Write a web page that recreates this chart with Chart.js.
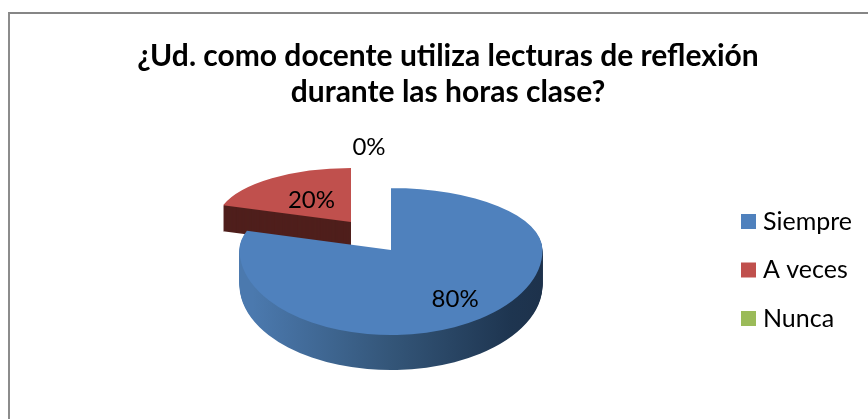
<!DOCTYPE html>
<html>
<head>
<meta charset="utf-8">
<script src="https://cdn.jsdelivr.net/npm/chart.js@4"></script>
<style>
  html, body { margin: 0; padding: 0; background: #fff; overflow: hidden; }
  #frame { position: absolute; left: 8px; top: 12px; width: 900px; height: 405px; border-left: 2px solid #8c8c8c; border-top: 2px solid #868686; }
  canvas { position: absolute; left: 0; top: 0; }
</style>
</head>
<body>
<canvas id="pie" width="868" height="502"></canvas>
<div id="frame"></div>
<script>
const titleLines = ['¿Ud. como docente utiliza lecturas de reflexión', 'durante las horas clase?'];
const categories = ['Siempre', 'A veces', 'Nunca'];
const percents = [80, 20, 0];
const colors = ['#4F81BD', '#C0504D', '#9BBB59'];

const RADIUS = 151.5;
const FONT = 'Lato, Carlito, sans-serif';

// flat circle -> tilted disc. Top and bottom halves squashed differently, that fakes the perspective
const views = [
  { cx: 391, cy: 250, sx: 1, up: 62 / RADIUS, down: 85 / RADIUS, depth: 35, label: 0.72 },
  { cx: 351, cy: 222, sx: 0.888, up: 54 / RADIUS, down: 54 / RADIUS, depth: 26, label: 0.5 },
  { cx: 369, cy: 222, sx: 0.888, up: 54 / RADIUS, down: 54 / RADIUS, depth: 0, label: 1.39 }
];

function paintArc(ctx, chart, el, v, dy, fill) {
  const saved = el.options;
  el.options = Object.assign({}, saved, { backgroundColor: fill });
  [[0, v.cy + dy, v.up], [v.cy + dy, chart.height, v.down]].forEach(([y0, y1, sy]) => {
    ctx.save();
    ctx.beginPath();
    ctx.rect(0, y0, chart.width, y1 - y0);
    ctx.clip();
    ctx.translate(v.cx, v.cy + dy);
    ctx.scale(v.sx, sy);
    ctx.translate(-el.x, -el.y);
    el.draw(ctx);
    ctx.restore();
  });
  el.options = saved;
}

const tiltedPie = {
  id: 'tiltedPie',
  beforeDatasetsDraw(chart) {
    const ctx = chart.ctx;
    const arcs = chart.getDatasetMeta(0).data;

    const blueWall = ctx.createLinearGradient(240, 0, 544, 0);
    blueWall.addColorStop(0, '#4B79AE');
    blueWall.addColorStop(0.45, '#345679');
    blueWall.addColorStop(0.85, '#1E3550');
    blueWall.addColorStop(1, '#1D3049');
    const walls = [blueWall, '#4F1F1C', '#000'];

    // back slice first, the big one overlaps it
    [1, 0].forEach(i => {
      const v = views[i];
      for (let d = v.depth; d > 0; d--) paintArc(ctx, chart, arcs[i], v, d, walls[i]);
      paintArc(ctx, chart, arcs[i], v, 0, colors[i]);
    });

    ctx.save();
    ctx.font = '24px ' + FONT;
    ctx.fillStyle = '#000';
    ctx.textAlign = 'center';
    ctx.textBaseline = 'middle';
    arcs.forEach((el, i) => {
      const v = views[i];
      const mid = (el.startAngle + el.endAngle) / 2;
      const dx = Math.cos(mid) * RADIUS * v.label;
      const dy = Math.sin(mid) * RADIUS * v.label;
      const total = percents.reduce((a, b) => a + b, 0);
      ctx.fillText(Math.round(percents[i] / total * 100) + '%',
        v.cx + dx * v.sx, v.cy + dy * (dy < 0 ? v.up : v.down));
    });
    ctx.restore();
    return false;
  }
};

new Chart(document.getElementById('pie'), {
  type: 'pie',
  data: {
    labels: categories,
    datasets: [{ data: percents, backgroundColor: colors, borderWidth: 0 }]
  },
  options: {
    responsive: false,
    animation: false,
    events: [],
    radius: RADIUS,
    layout: { padding: { left: 34, right: 6, top: 38, bottom: 0 } },
    plugins: {
      tooltip: { enabled: false },
      title: {
        display: true,
        text: titleLines,
        color: '#000',
        font: { family: FONT, size: 30, weight: 'bold', lineHeight: 1.2 },
        padding: { top: 0, bottom: 10 }
      },
      legend: {
        position: 'right',
        labels: {
          color: '#000',
          font: { family: FONT, size: 25 },
          boxWidth: 4,
          boxHeight: 4,
          padding: 23.5,
          generateLabels(chart) {
            // thick outline so the swatch sits closer to its text than boxWidth + fontSize/2
            return Chart.overrides.pie.plugins.legend.labels.generateLabels(chart).map(item =>
              Object.assign(item, { strokeStyle: item.fillStyle, lineWidth: 11 }));
          }
        }
      }
    }
  },
  plugins: [tiltedPie]
});
</script>
</body>
</html>
